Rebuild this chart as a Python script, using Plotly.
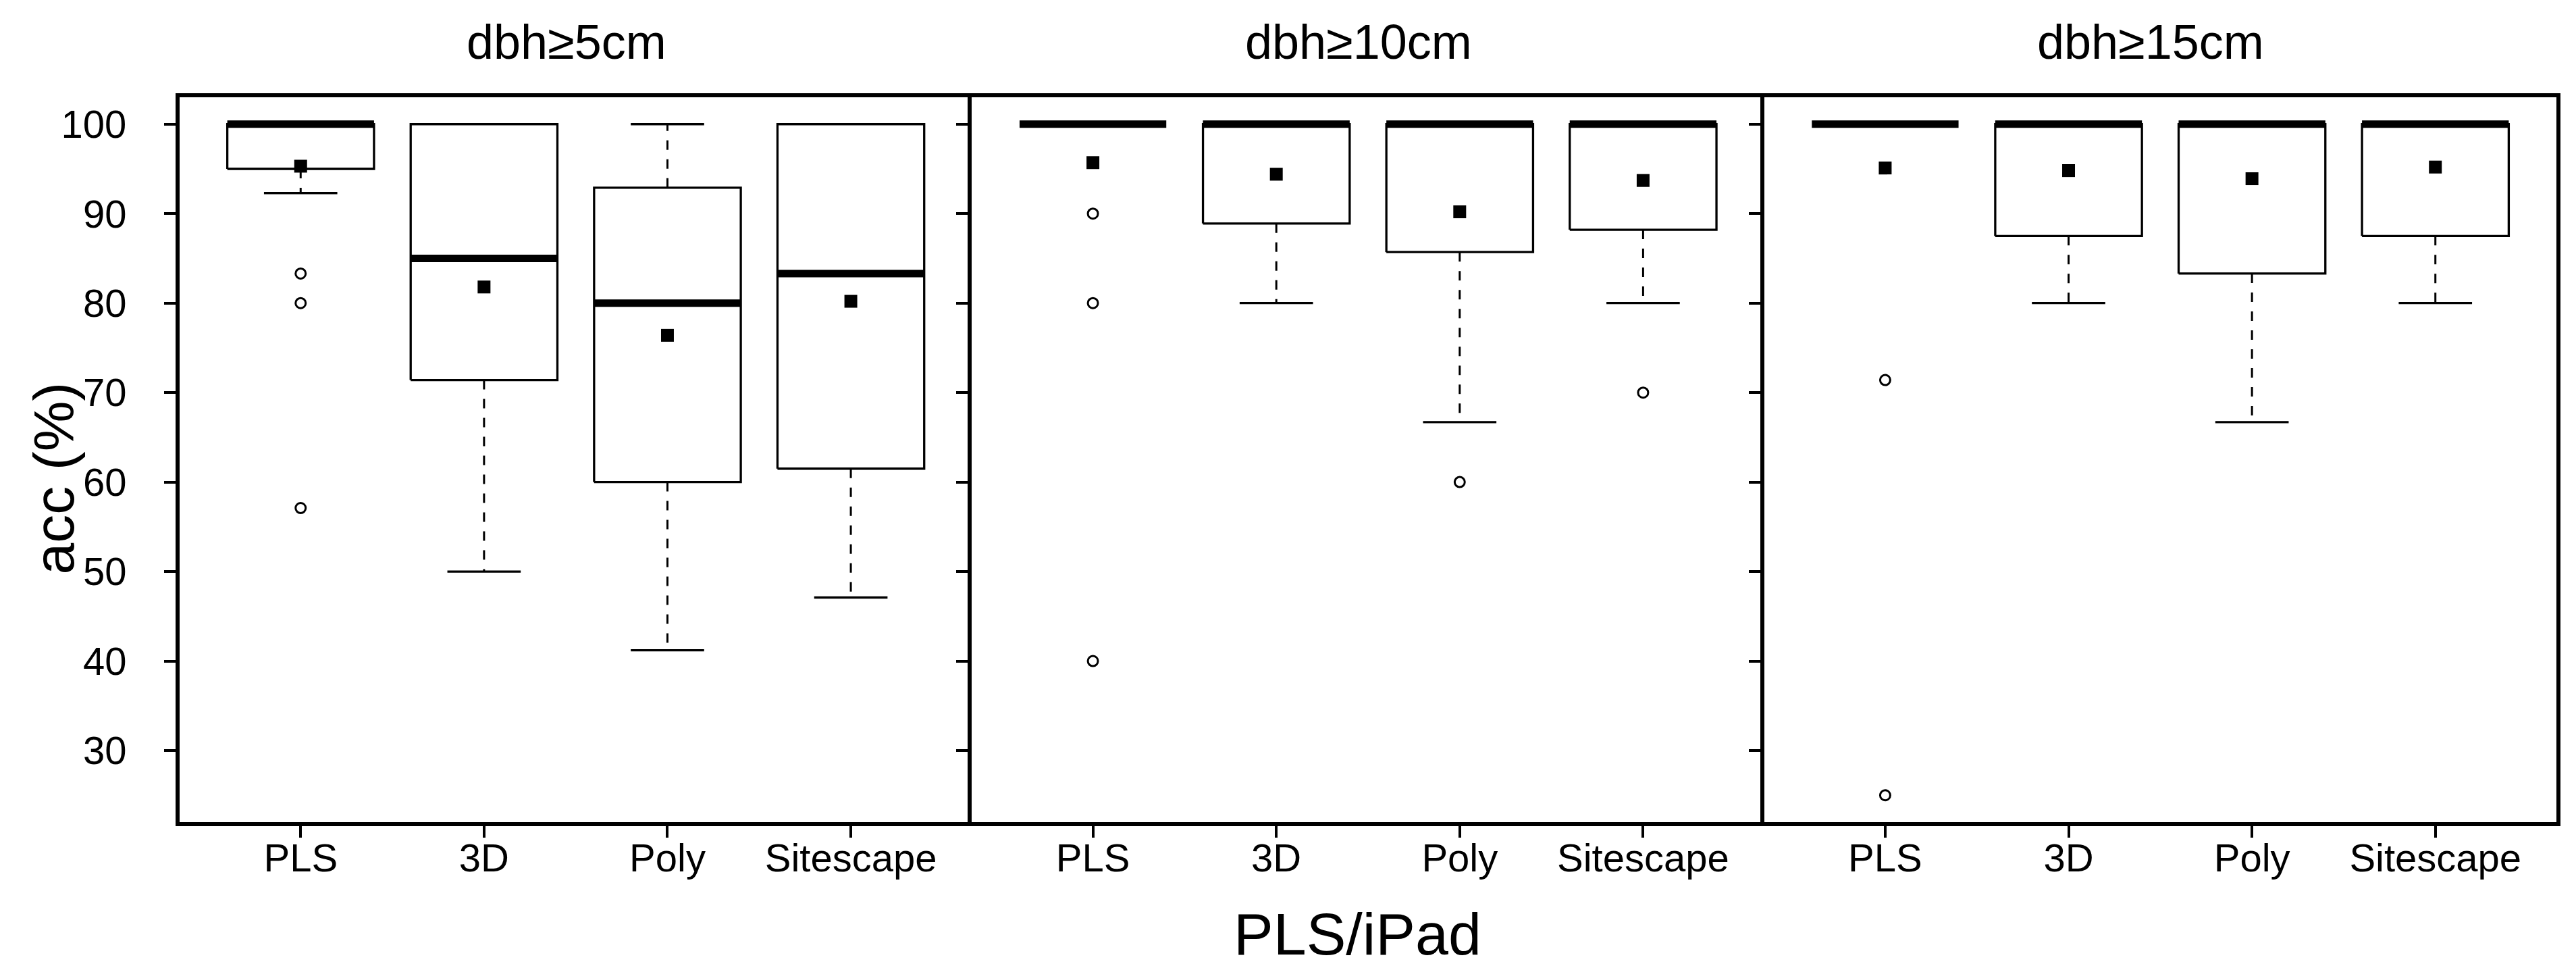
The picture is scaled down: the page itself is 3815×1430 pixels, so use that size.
import plotly.graph_objects as go
from plotly.subplots import make_subplots

# categories and panels
categories = ["PLS", "3D", "Poly", "Sitescape"]
panels = ["dbh≥5cm", "dbh≥10cm", "dbh≥15cm"]

# box statistics, one row per panel, one value per category
q1 = [[95.0, 71.4, 60.0, 61.5],
      [100.0, 88.9, 85.7, 88.2],
      [100.0, 87.5, 83.3, 87.5]]
median = [[100.0, 85.0, 80.0, 83.3],
          [100.0, 100.0, 100.0, 100.0],
          [100.0, 100.0, 100.0, 100.0]]
q3 = [[100.0, 100.0, 92.9, 100.0],
      [100.0, 100.0, 100.0, 100.0],
      [100.0, 100.0, 100.0, 100.0]]
whisker_low = [[92.3, 50.0, 41.2, 47.1],
               [100.0, 80.0, 66.7, 80.0],
               [100.0, 80.0, 66.7, 80.0]]
whisker_high = [[100.0, 100.0, 100.0, 100.0],
                [100.0, 100.0, 100.0, 100.0],
                [100.0, 100.0, 100.0, 100.0]]
means = [[95.3, 81.8, 76.4, 80.2],
         [95.7, 94.4, 90.2, 93.7],
         [95.1, 94.8, 93.9, 95.2]]
outliers = [[[83.3, 80.0, 57.1], [], [], []],
            [[90.0, 80.0, 40.0], [], [60.0], [70.0]],
            [[71.4, 25.0], [], [], []]]

y_ticks = [30, 40, 50, 60, 70, 80, 90, 100]

FONT = "Liberation Sans, Arial, sans-serif"
BOX_HALF = 0.4
CAP_HALF = 0.2

fig = make_subplots(rows=1, cols=3, horizontal_spacing=0)

for p in range(len(panels)):
    col = p + 1
    bx, by = [], []
    mx, my = [], []
    wx, wy = [], []
    cx, cy = [], []
    ox, oy = [], []
    for i in range(len(categories)):
        lo, hi = q1[p][i], q3[p][i]
        if hi > lo:
            bx += [i - BOX_HALF, i + BOX_HALF, i + BOX_HALF, i - BOX_HALF, i - BOX_HALF, None]
            by += [lo, lo, hi, hi, lo, None]
        mx += [i - BOX_HALF, i + BOX_HALF, None]
        my += [median[p][i]] * 2 + [None]
        if whisker_low[p][i] < lo:
            wx += [i, i, None]
            wy += [lo, whisker_low[p][i], None]
            cx += [i - CAP_HALF, i + CAP_HALF, None]
            cy += [whisker_low[p][i]] * 2 + [None]
        if whisker_high[p][i] > hi:
            wx += [i, i, None]
            wy += [hi, whisker_high[p][i], None]
            cx += [i - CAP_HALF, i + CAP_HALF, None]
            cy += [whisker_high[p][i]] * 2 + [None]
        for v in outliers[p][i]:
            ox.append(i)
            oy.append(v)

    fig.add_trace(go.Scatter(x=wx, y=wy, mode="lines",
                             line=dict(color="black", width=3, dash="14px,14px")), row=1, col=col)
    fig.add_trace(go.Scatter(x=cx, y=cy, mode="lines",
                             line=dict(color="black", width=3.3)), row=1, col=col)
    fig.add_trace(go.Scatter(x=bx, y=by, mode="lines",
                             line=dict(color="black", width=3.3)), row=1, col=col)
    fig.add_trace(go.Scatter(x=mx, y=my, mode="lines",
                             line=dict(color="black", width=11)), row=1, col=col)
    fig.add_trace(go.Scatter(x=ox, y=oy, mode="markers",
                             marker=dict(symbol="circle-open", size=15, color="black",
                                         line=dict(width=3, color="black"))), row=1, col=col)
    fig.add_trace(go.Scatter(x=list(range(len(categories))), y=means[p], mode="markers",
                             marker=dict(symbol="square", size=19, color="black")), row=1, col=col)

    fig.update_xaxes(range=[-0.66, 3.66], tickvals=list(range(len(categories))),
                     ticktext=categories, ticks="outside", ticklen=17, tickwidth=4,
                     tickcolor="black", showline=True, linewidth=6, linecolor="black",
                     mirror=True, showgrid=False, zeroline=False,
                     tickfont=dict(family=FONT, size=58, color="black"),
                     ticklabelstandoff=-20, row=1, col=col)
    # only the last panel mirrors its y line, so shared borders are drawn once
    fig.update_yaxes(range=[22, 103], tickvals=y_ticks, ticks="outside", ticklen=17,
                     tickwidth=4, tickcolor="black", showline=True, linewidth=6,
                     linecolor="black", mirror=(p == len(panels) - 1), showgrid=False,
                     zeroline=False, showticklabels=(p == 0),
                     tickfont=dict(family=FONT, size=58, color="black"),
                     ticklabelstandoff=44, row=1, col=col)

annotations = []
for p, name in enumerate(panels):
    annotations.append(dict(text=name, x=(p + 0.5) / 3, xshift=-14, y=1.076,
                            xref="paper", yref="paper", xanchor="center", yanchor="middle",
                            showarrow=False, font=dict(family=FONT, size=72, color="black")))
annotations.append(dict(text="PLS/iPad", x=0.4957, y=-0.154, xref="paper", yref="paper",
                        xanchor="center", yanchor="middle", showarrow=False,
                        font=dict(family=FONT, size=88, color="black")))
annotations.append(dict(text="acc (%)", x=0, xshift=-186, y=0.474, xref="paper", yref="paper",
                        xanchor="center", yanchor="middle", textangle=-90, showarrow=False,
                        font=dict(family=FONT, size=84, color="black")))

fig.update_layout(
    width=3815, height=1430,
    margin=dict(l=258, r=37, t=136, b=221),
    plot_bgcolor="white", paper_bgcolor="white",
    showlegend=False,
    annotations=annotations,
)

fig.write_html("out.html")
